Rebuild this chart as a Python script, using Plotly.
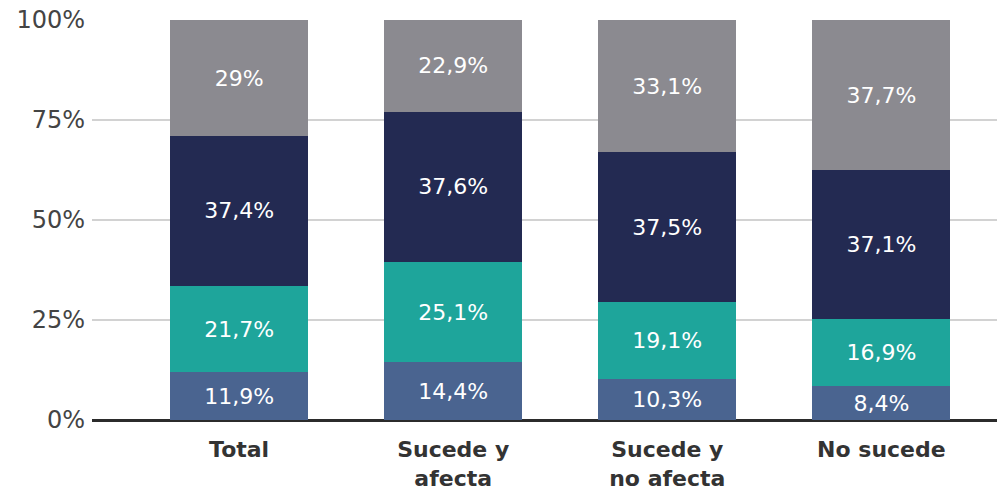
import plotly.graph_objects as go

categories = ["Total", "Sucede y<br>afecta", "Sucede y<br>no afecta", "No sucede"]
series_names = ["Serie 1", "Serie 2", "Serie 3", "Serie 4"]
s1 = [11.9, 14.4, 10.3, 8.4]
s2 = [21.7, 25.1, 19.1, 16.9]
s3 = [37.4, 37.6, 37.5, 37.1]
s4 = [29.0, 22.9, 33.1, 37.7]
colors = ["#4a6490", "#1ea59b", "#232a52", "#8b8a90"]
y_ticks = [0, 25, 50, 75, 100]
y_tick_labels = ["0%", "25%", "50%", "75%", "100%"]

FONT = "DejaVu Sans"

def fmt(v):
    return f"{v:g}".replace(".", ",") + "%"

fig = go.Figure()
for name, vals, col in zip(series_names, [s1, s2, s3, s4], colors):
    fig.add_trace(go.Bar(
        x=categories, y=vals, name=name,
        marker=dict(color=col, line=dict(width=0)),
        text=[fmt(v) for v in vals],
        textposition="inside", insidetextanchor="middle",
        textfont=dict(color="white", size=22, family=FONT),
        width=0.645,
    ))

fig.update_layout(
    barmode="stack",
    width=997, height=493,
    margin=dict(l=92, r=0, t=20, b=73),
    paper_bgcolor="white", plot_bgcolor="white",
    showlegend=False,
    font=dict(family=FONT),
    uniformtext=dict(minsize=22, mode="show"),
    xaxis=dict(
        range=[-0.687, 3.54],
        showgrid=False, showline=False, zeroline=False,
        tickfont=dict(size=22, color="#333333", family=FONT, weight="bold"),
        ticks="",
        ticklabelstandoff=14,
    ),
    yaxis=dict(
        range=[0, 100],
        tickmode="array", tickvals=y_ticks, ticktext=y_tick_labels,
        showgrid=True, gridcolor="#d2d2d2", gridwidth=2,
        zeroline=True, zerolinecolor="#2b2b2b", zerolinewidth=2.5,
        showline=False, ticks="",
        tickfont=dict(size=24, color="#444444", family=FONT),
        ticklabelstandoff=6,
    ),
)

fig.write_html("out.html", config={"displayModeBar": False},
               post_script="document.body.style.margin='0';")
